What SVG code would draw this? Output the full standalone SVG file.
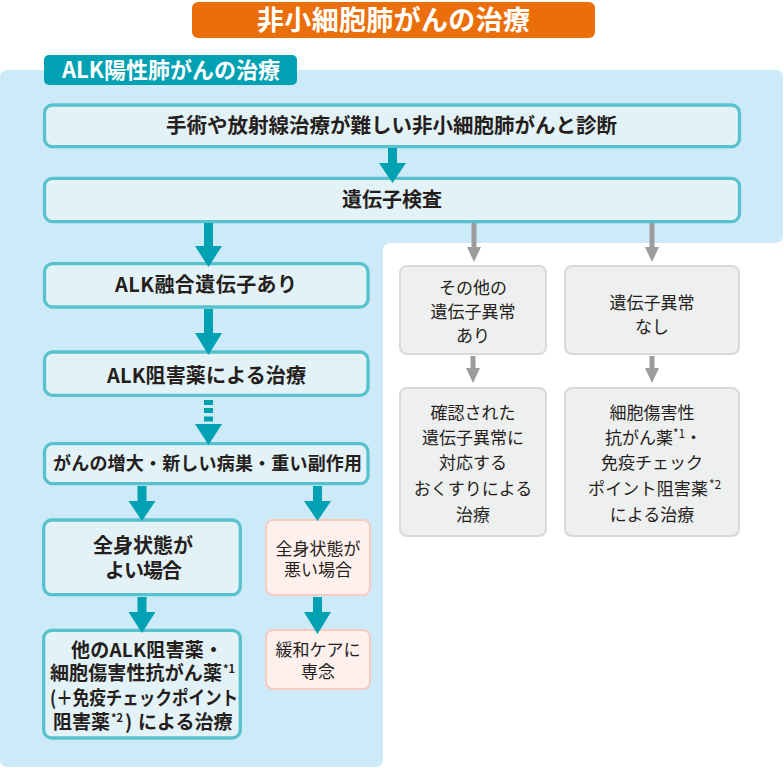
<svg xmlns="http://www.w3.org/2000/svg" width="784" height="768" viewBox="0 0 784 768">
<defs>
<style>
text{font-family:"Noto Sans CJK JP","Noto Sans",sans-serif;fill:#251e1c;text-anchor:middle}
.b{font-weight:700}
.w{fill:#ffffff}
.tb{fill:#e2f2f6;stroke:#57c2ce;stroke-width:3.3}
.gb{fill:#eeefef;stroke:#d9d9d9;stroke-width:2}
.pb{fill:#fdf0ed;stroke:#f8cbc0;stroke-width:2}
.ta{fill:#00a1b2}
.ga{fill:#9c9c9c}
.s{text-anchor:start}
</style>
</defs>
<rect width="784" height="768" fill="#ffffff"/>
<path d="M0,78 Q0,70 8,70 H775 Q783,70 783,78 V235 Q783,243 775,243 H391 Q383,243 383,251 V759 Q383,767 375,767 H8 Q0,767 0,759 Z" fill="#cdeaf9"/>

<g id="title">
<rect x="192" y="2" width="403" height="36" rx="6" fill="#ea6f0b"/>
<text class="b w" x="393.5" y="30" font-size="27" textLength="273">非小細胞肺がんの治療</text>
</g>
<g id="tab">
<rect x="44" y="55" width="253" height="30" rx="5" fill="#00a1b2"/>
<text class="b w" x="171" y="78" font-size="22" textLength="218">ALK陽性肺がんの治療</text>
</g>

<g id="diagnosis">
<rect class="tb" x="44.5" y="105" width="695" height="41.7" rx="8"/>
<text class="b" x="391.5" y="133" font-size="20.5" textLength="451">手術や放射線治療が難しい非小細胞肺がんと診断</text>
</g>
<g id="genetest">
<rect class="tb" x="44.5" y="178.3" width="695" height="43.4" rx="8"/>
<text class="b" x="392" y="207.4" font-size="20" textLength="100">遺伝子検査</text>
</g>
<g id="alkfusion">
<rect class="tb" x="44.5" y="263.7" width="323.5" height="43.3" rx="8"/>
<text class="b" x="206" y="292.4" font-size="20" textLength="182">ALK融合遺伝子あり</text>
</g>
<g id="alktreat">
<rect class="tb" x="44.5" y="352" width="323.5" height="43.3" rx="8"/>
<text class="b" x="206.5" y="383" font-size="20" textLength="199">ALK阻害薬による治療</text>
</g>
<g id="progress">
<rect class="tb" x="44.5" y="443.7" width="323.5" height="40" rx="8"/>
<text class="b" x="207.5" y="470" font-size="18" textLength="309">がんの増大・新しい病巣・重い副作用</text>
</g>
<g id="goodps">
<rect class="tb" x="43.7" y="520" width="196.6" height="74.7" rx="8"/>
<text class="b" x="143" y="553.4" font-size="20">全身状態が</text>
<text class="b" x="143.5" y="578.4" font-size="20" textLength="77">よい場合</text>
</g>
<g id="otheralk">
<rect class="tb" x="43.7" y="630.3" width="196.6" height="107.7" rx="8"/>
<text class="b" x="147" y="657" font-size="19" textLength="152">他のALK阻害薬・</text>
<text class="b s" x="50" y="679.5" font-size="19"><tspan textLength="172">細胞傷害性抗がん薬</tspan><tspan x="223" dy="-7" font-size="11">*1</tspan></text>
<text class="b s" x="50" y="705" font-size="19" textLength="188" lengthAdjust="spacingAndGlyphs">(＋免疫チェックポイント</text>
<text class="b s" x="53" y="729" font-size="19"><tspan>阻害薬</tspan><tspan x="111" dy="-7" font-size="11">*2</tspan><tspan x="125" dy="7">)</tspan><tspan x="138">による治療</tspan></text>
</g>
<g id="poorps">
<rect class="pb" x="266" y="520" width="104" height="75" rx="7"/>
<text x="318" y="554.8" font-size="17">全身状態が</text>
<text x="318" y="575.8" font-size="17">悪い場合</text>
</g>
<g id="palliative">
<rect class="pb" x="266" y="630" width="104" height="59" rx="7"/>
<text x="318" y="656.3" font-size="17">緩和ケアに</text>
<text x="318" y="677.8" font-size="17">専念</text>
</g>
<g id="othergene">
<rect class="gb" x="400" y="266" width="146" height="88" rx="7"/>
<text x="473" y="293.8" font-size="17">その他の</text>
<text x="473" y="317.8" font-size="17">遺伝子異常</text>
<text x="473" y="341.8" font-size="17">あり</text>
</g>
<g id="nogene">
<rect class="gb" x="565" y="266" width="174" height="88" rx="7"/>
<text x="652" y="308.8" font-size="17">遺伝子異常</text>
<text x="652" y="332.8" font-size="17">なし</text>
</g>
<g id="targeted">
<rect class="gb" x="400" y="388" width="146" height="148" rx="7"/>
<text x="473" y="418.8" font-size="17">確認された</text>
<text x="473" y="443.8" font-size="17">遺伝子異常に</text>
<text x="473" y="469.3" font-size="17">対応する</text>
<text x="473" y="495.3" font-size="17">おくすりによる</text>
<text x="473" y="520.8" font-size="17">治療</text>
</g>
<g id="chemo">
<rect class="gb" x="565" y="388" width="174" height="148" rx="7"/>
<text x="652" y="418.8" font-size="17">細胞傷害性</text>
<text class="s" x="605" y="443.8" font-size="17"><tspan>抗がん薬</tspan><tspan x="673" dy="-6" font-size="12">*1</tspan><tspan x="685" dy="6">・</tspan></text>
<text x="652" y="469.3" font-size="17">免疫チェック</text>
<text class="s" x="588" y="495.3" font-size="17"><tspan textLength="120">ポイント阻害薬</tspan><tspan x="709" dy="-6" font-size="12">*2</tspan></text>
<text x="652" y="520.8" font-size="17">による治療</text>
</g>

<g id="connectors">
<path class="ta" d="M388,148 H397 V163 H406 L392.5,183 L379,163 H388 Z"/>
<path class="ta" d="M204,223 H213 V246 H222 L208.5,267 L195,246 H204 Z"/>
<path class="ta" d="M204,309 H213 V333 H222 L208.5,355 L195,333 H204 Z"/>
<rect class="ta" x="204" y="400" width="9" height="5"/>
<rect class="ta" x="204" y="408" width="9" height="5"/>
<rect class="ta" x="204" y="416.5" width="9" height="5"/>
<path class="ta" d="M195,424 H222 L208.5,445 Z"/>
<path class="ta" d="M137.5,486 H146.5 V501 H155.5 L142,521 L128.5,501 H137.5 Z"/>
<path class="ta" d="M313,486 H322 V501 H331 L317.5,521 L304,501 H313 Z"/>
<path class="ta" d="M137.5,597 H146.5 V612 H155.5 L142,633 L128.5,612 H137.5 Z"/>
<path class="ta" d="M313,597 H322 V612 H331 L317.5,634 L304,612 H313 Z"/>
<path class="ga" d="M471.5,223 H476.5 V247 H481 L474,262 L467,247 H471.5 Z"/>
<path class="ga" d="M649.5,223 H654.5 V247 H659 L652,262 L645,247 H649.5 Z"/>
<path class="ga" d="M470.5,356 H475.5 V368 H480 L473,383 L466,368 H470.5 Z"/>
<path class="ga" d="M649.5,356 H654.5 V368 H659 L652,383 L645,368 H649.5 Z"/>
</g>
</svg>
